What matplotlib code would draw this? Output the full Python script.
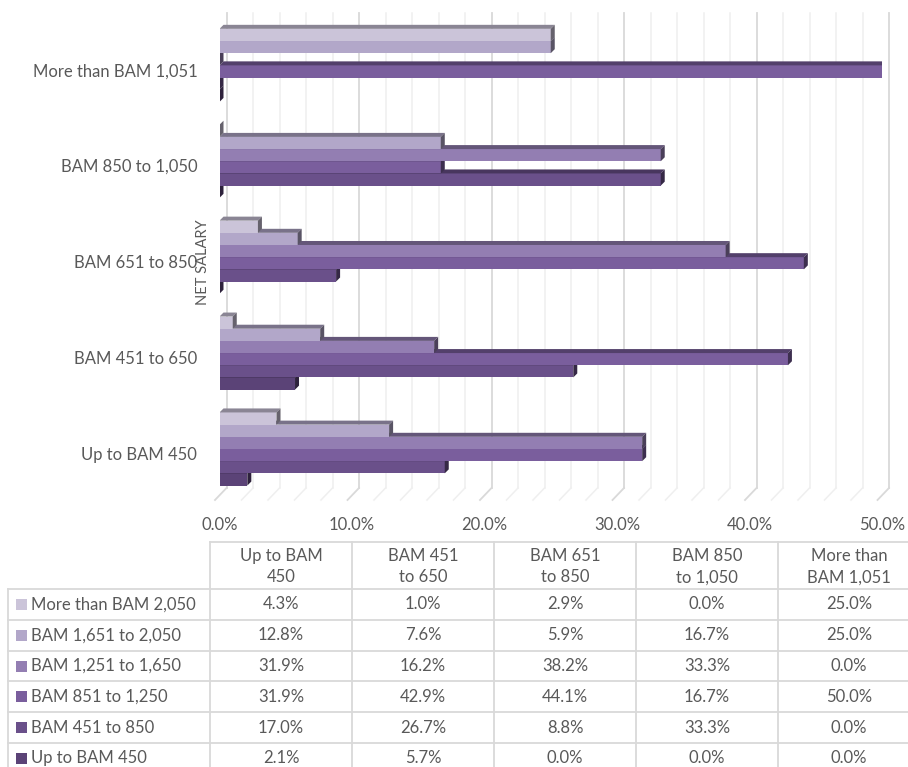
import matplotlib
matplotlib.use("Agg")
import matplotlib.pyplot as plt
from matplotlib.patches import Polygon, Rectangle
import matplotlib.colors as mcolors
import numpy as np

# ---------------- data ----------------
categories = ["Up to BAM 450", "BAM 451 to 650", "BAM 651 to 850",
              "BAM 850 to 1,050", "More than BAM 1,051"]
header_labels = ["Up to BAM\n450", "BAM 451\nto 650", "BAM 651\nto 850",
                 "BAM 850\nto 1,050", "More than\nBAM 1,051"]
# series in table order (top row first)
series_names = ["More than BAM 2,050", "BAM 1,651 to 2,050", "BAM 1,251 to 1,650",
                "BAM 851 to 1,250", "BAM 451 to 850", "Up to BAM 450"]
more_2050 = [4.3, 1.0, 2.9, 0.0, 25.0]
bam_1651_2050 = [12.8, 7.6, 5.9, 16.7, 25.0]
bam_1251_1650 = [31.9, 16.2, 38.2, 33.3, 0.0]
bam_851_1250 = [31.9, 42.9, 44.1, 16.7, 50.0]
bam_451_850 = [17.0, 26.7, 8.8, 33.3, 0.0]
up_to_450 = [2.1, 5.7, 0.0, 0.0, 0.0]
series_values = [more_2050, bam_1651_2050, bam_1251_1650, bam_851_1250, bam_451_850, up_to_450]
series_colors = ["#CBC4D9", "#B2A7C9", "#937EB2", "#7A5E9D", "#6A508A", "#5B4377"]
x_ticks = [0, 10, 20, 30, 40, 50]
axis_title = "NET SALARY"

# ---------------- layout ----------------
W, H = 908, 767
FONT = "Lato"
TXT = "#595959"
GRID = "#D9D9D9"
fs = 12

fig = plt.figure(figsize=(W / 100, H / 100), dpi=100)

def fx(px):
    return px / W

def fy(py):
    return 1 - py / H

x0_px, x1_px = 219.5, 882.0
top_px, bot_px = 13.0, 500.0
ax = fig.add_axes([fx(x0_px), fy(bot_px), fx(x1_px - x0_px), (bot_px - top_px) / H])
ymin, ymax = -0.532, 4.546
ax.set_xlim(0, 50)
ax.set_ylim(ymin, ymax)
ppx = (x1_px - x0_px) / 50.0
ppy = (bot_px - top_px) / (ymax - ymin)

def dxu(px):
    return px / ppx

def dyu(px):
    return px / ppy

# back wall gridlines and floor
floor_front = ymin
floor_back = ymin + dyu(12)
for g in np.arange(0, 50.01, 2):
    major = abs(g % 10) < 1e-6
    col = GRID if major else "#EFEFEF"
    lw = 1.3 if major else 1.1
    xb = g + dxu(7)
    ax.plot([xb, xb], [floor_back, ymax], color=col, lw=lw, zorder=1, clip_on=False)
    ax.plot([g - dxu(4.5), xb], [floor_front, floor_back], color=col, lw=lw, zorder=1,
            clip_on=False)

def darker(c, f):
    r, g, b = mcolors.to_rgb(c)
    return (r * f, g * f, b * f)

h = 0.127
ddx, ddy = dxu(4), dyu(4)
nser = len(series_values)
for ci in range(len(categories)):
    for si in range(nser - 1, -1, -1):
        pos = (nser - 1) - si  # 0 = bottom bar
        yc = ci + (pos - 2.5) * h
        yb, yt = yc - h / 2, yc + h / 2
        w = series_values[si][ci]
        col = series_colors[si]
        z = 2 + ci * 10 + pos
        ax.add_patch(Rectangle((0, yb), w, h, facecolor=col, edgecolor="none", zorder=z))
        ax.add_patch(Polygon([(0, yt), (w, yt), (w + ddx, yt + ddy), (ddx, yt + ddy)],
                             closed=True, facecolor=darker(col, 0.68), edgecolor="none",
                             zorder=z))
        ax.add_patch(Polygon([(w, yb), (w, yt), (w + ddx, yt + ddy), (w + ddx, yb + ddy)],
                             closed=True, facecolor=darker(col, 0.5), edgecolor="none",
                             zorder=z))

for s in ax.spines.values():
    s.set_visible(False)
ax.set_yticks([c - 0.045 for c in range(len(categories))])
ax.set_yticklabels(categories, fontsize=fs, color=TXT, family=FONT)
ax.tick_params(axis="y", length=0, pad=16)
ax.set_xticks(x_ticks)
ax.set_xticklabels([f"{t:.1f}%" for t in x_ticks], fontsize=fs, color=TXT, family=FONT)
ax.tick_params(axis="x", length=0, pad=12)

fig.text(fx(203), fy(262), axis_title, rotation=90, ha="center", va="center",
         fontsize=10.5, color=TXT, family=FONT)

# ---------------- data table ----------------
ov = fig.add_axes([0, 0, 1, 1], zorder=-1)
ov.set_xlim(0, W)
ov.set_ylim(H, 0)
ov.axis("off")

col_left = 210
col_w = 142
left_border = 8
hdr_top, hdr_bot = 542, 589
row_h = 30.8
ncol = len(categories)
right_edge = col_left + ncol * col_w
lkw = dict(color=GRID, lw=1.3)

ov.plot([col_left, right_edge], [hdr_top, hdr_top], **lkw)
for k in range(ncol + 1):
    xk = col_left + k * col_w
    ov.plot([xk, xk], [hdr_top, hdr_bot + nser * row_h], **lkw)
ov.plot([left_border, left_border], [hdr_bot, hdr_bot + nser * row_h], **lkw)
for r in range(nser + 1):
    yr = hdr_bot + r * row_h
    ov.plot([left_border, right_edge], [yr, yr], **lkw)

for k, lab in enumerate(header_labels):
    ov.text(col_left + (k + 0.5) * col_w, (hdr_top + hdr_bot) / 2 + 1, lab,
            ha="center", va="center", fontsize=fs, color=TXT, family=FONT,
            linespacing=1.45)

for r, name in enumerate(series_names):
    yc = hdr_bot + (r + 0.5) * row_h
    ov.add_patch(Rectangle((16, yc - 5.5), 11, 11, facecolor=series_colors[r],
                           edgecolor="none"))
    ov.text(31, yc, name, ha="left", va="center", fontsize=fs, color=TXT, family=FONT)
    for k in range(ncol):
        ov.text(col_left + (k + 0.5) * col_w, yc, f"{series_values[r][k]:.1f}%",
                ha="center", va="center", fontsize=fs, color=TXT, family=FONT)

fig.savefig("out.png", dpi=100)
